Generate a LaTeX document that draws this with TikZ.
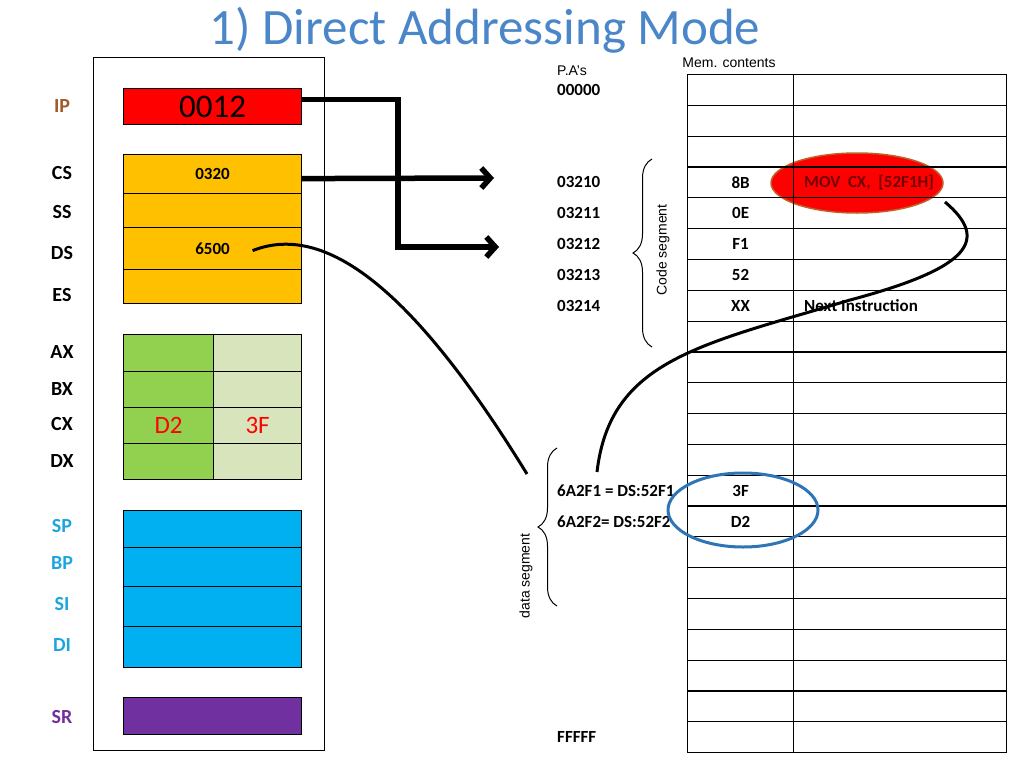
\documentclass[tikz,border=0pt]{standalone}
\usepackage{fontspec}
\setmainfont{Carlito}
\newfontfamily\arialf{Liberation Sans}
\usetikzlibrary{arrows.meta,shapes.geometric,decorations.pathreplacing,calc}
\definecolor{titleblue}{RGB}{74,134,200}
\definecolor{ipred}{RGB}{255,0,0}
\definecolor{segyel}{RGB}{255,192,0}
\definecolor{grn}{RGB}{146,208,80}
\definecolor{lgrn}{RGB}{216,228,188}
\definecolor{idxblue}{RGB}{0,176,240}
\definecolor{srpurple}{RGB}{112,48,160}
\definecolor{ipbrown}{RGB}{158,90,40}
\definecolor{lblblue}{RGB}{30,165,225}
\definecolor{movred}{RGB}{115,0,0}
\definecolor{ellbrown}{RGB}{192,96,40}
\definecolor{ellblue}{RGB}{46,117,182}
\begin{document}
\begin{tikzpicture}[x=1pt,y=-1pt,
  reg/.style={draw=black, line width=1.2pt, anchor=north west, inner sep=0pt, minimum width=178pt},
  half/.style={draw=black, line width=1.2pt, anchor=north west, inner sep=0pt},
  lab/.style={font=\bfseries\fontsize{20}{20}\selectfont},
  cell/.style={draw=black, line width=1.2pt, anchor=north west, inner sep=0pt, minimum height=30.818pt},
  memv/.style={font=\bfseries\fontsize{17}{17}\selectfont},
  addr/.style={anchor=west, inner sep=0pt, font=\bfseries\fontsize{17}{17}\selectfont},
  small/.style={font=\arialf\fontsize{14}{14}\selectfont, inner sep=0pt},
  thickarrow/.style={line width=5.5pt, -{Straight Barb[length=9pt,width=20pt]}},
  curve/.style={line width=3pt}
]
\useasboundingbox (0,0) rectangle (1024,768);

% title
\node[font=\fontsize{51}{51}\selectfont, text=titleblue, anchor=base, inner sep=0pt] (title) at (485,45) {1) Direct Addressing Mode};

% register panel
\node[draw=black, line width=1.2pt, anchor=north west, inner sep=0pt, minimum width=231pt, minimum height=693pt] (panel) at (93,57) {};

\node[reg, fill=ipred, minimum height=36pt, font=\fontsize{33}{33}\selectfont] (ip) at (123,88) {0012};

\node[reg, fill=segyel, minimum height=39pt, font=\bfseries\fontsize{17}{17}\selectfont] (cs) at (123,154) {0320};
\node[reg, fill=segyel, minimum height=34pt] (ss) at (123,193) {};
\node[reg, fill=segyel, minimum height=42pt, font=\bfseries\fontsize{17}{17}\selectfont] (ds) at (123,227) {6500};
\node[reg, fill=segyel, minimum height=34pt] (es) at (123,269) {};

\foreach \n/\y/\h/\th/\tl in {ax/334/37//, bx/371/36//, cx/407/36/D2/3F, dx/443/36//}{
  \node[half, fill=grn, minimum width=90pt, minimum height=\h pt, text=red, font=\fontsize{25}{25}\selectfont] (\n h) at (123,\y) {\th};
  \node[half, fill=lgrn, minimum width=88pt, minimum height=\h pt, text=red, font=\fontsize{25}{25}\selectfont] (\n l) at (213,\y) {\tl};
}

\foreach \n/\y/\h in {sp/510/37, bp/547/39, si/586/40, di/626/41}{
  \node[reg, fill=idxblue, minimum height=\h pt] (\n) at (123,\y) {};
}
\node[reg, fill=srpurple, minimum height=37pt] (sr) at (123,697) {};

% register labels
\node[lab, text=ipbrown] (lip) at (62,106) {IP};
\node[lab] (lcs) at (62,173) {CS};
\node[lab] (lss) at (62,212) {SS};
\node[lab] (lds) at (62,253) {DS};
\node[lab] (les) at (62,295) {ES};
\node[lab] (lax) at (62,352) {AX};
\node[lab] (lbx) at (62,389) {BX};
\node[lab] (lcx) at (62,424) {CX};
\node[lab] (ldx) at (62,461) {DX};
\node[lab, text=lblblue] (lsp) at (62,526) {SP};
\node[lab, text=lblblue] (lbp) at (62,563) {BP};
\node[lab, text=lblblue] (lsi) at (62,604) {SI};
\node[lab, text=lblblue] (ldi) at (62,645) {DI};
\node[lab, text=srpurple] (lsr) at (62,717) {SR};

% red ellipse behind table
\node[ellipse, fill=red, draw=ellbrown, line width=1.5pt, minimum width=172pt, minimum height=60pt, inner sep=0pt] (movell) at (857,183) {};

% memory table
\foreach \i in {0,...,21}{
  \node[cell, minimum width=106pt] (ma\i) at (687,{74+30.818*\i}) {};
  \node[cell, minimum width=213pt] (mb\i) at (793,{74+30.818*\i}) {};
}

% memory contents
\node[memv] (v3) at (ma3) {8B};
\node[memv] (v4) at (ma4) {0E};
\node[memv] (v5) at (ma5) {F1};
\node[memv] (v6) at (ma6) {52};
\node[memv] (v7) at (ma7) {XX};
\node[memv] (v13) at (ma13) {3F};
\node[memv] (v14) at (ma14) {D2};
\node[addr, text=movred] (movt) at ($(mb3.west)+(11,0)$) {MOV\ \ CX,\ \ [52F1H]};
\node[addr] (nxt) at ($(mb7.west)+(11,0)$) {Next Instruction};

% headings
\node[small, anchor=west] (pa) at (557,71) {P.A’s};
\node[small] (memc) at (729,63) {Mem. contents};

% addresses
\node[addr] (a0) at ($(ma0.west)+(-130,0)$) {00000};
\node[addr] (a3) at ($(ma3.west)+(-130,0)$) {03210};
\node[addr] (a4) at ($(ma4.west)+(-130,0)$) {03211};
\node[addr] (a5) at ($(ma5.west)+(-130,0)$) {03212};
\node[addr] (a6) at ($(ma6.west)+(-130,0)$) {03213};
\node[addr] (a7) at ($(ma7.west)+(-130,0)$) {03214};
\node[addr] (a13) at ($(ma13.west)+(-130,0)$) {6A2F1 = DS:52F1};
\node[addr] (a14) at ($(ma14.west)+(-130,0)$) {6A2F2= DS:52F2};
\node[addr] (a21) at ($(ma21.west)+(-130,0)$) {FFFFF};

% blue ellipse
\node[ellipse, draw=ellblue, line width=3pt, minimum width=150pt, minimum height=74pt, inner sep=0pt] (dataell) at (743,510) {};

% braces
\coordinate (cbtop) at (652,159);
\coordinate (cbbot) at (652,347);
\draw[line width=1pt, decorate, decoration={brace, amplitude=19pt}] (cbbot) -- (cbtop);
\node[small, rotate=90] (codeseg) at (663,250) {Code segment};

\coordinate (dbtop) at (557,448);
\coordinate (dbbot) at (557,606);
\draw[line width=1pt, decorate, decoration={brace, amplitude=19pt}] (dbbot) -- (dbtop);
\node[small, rotate=90] (dataseg) at (526,576) {data segment};

% thick arrows
\coordinate (t1) at (494,178);
\coordinate (t2) at (499,247);
\draw[thickarrow] ($(ip.east)+(0,-7)$) -| (398,200) |- (t2);
\draw[thickarrow] ($(cs.east)+(0,4.5)$) -- (t1);

% curves
\coordinate (dsstart) at ($(ds.center)+(40,2)$);
\coordinate (dsend) at (527,474);
\draw[curve] (dsstart) .. controls (330,220) and (420,300) .. (dsend);

\coordinate (movstart) at (945,202);
\coordinate (movmid) at (850,300);
\coordinate (movend) at (597,472);
\draw[curve] (movstart) .. controls (990,240) and (970,268) .. (movmid) .. controls (700,345) and (610,360) .. (movend);
\end{tikzpicture}
\end{document}
